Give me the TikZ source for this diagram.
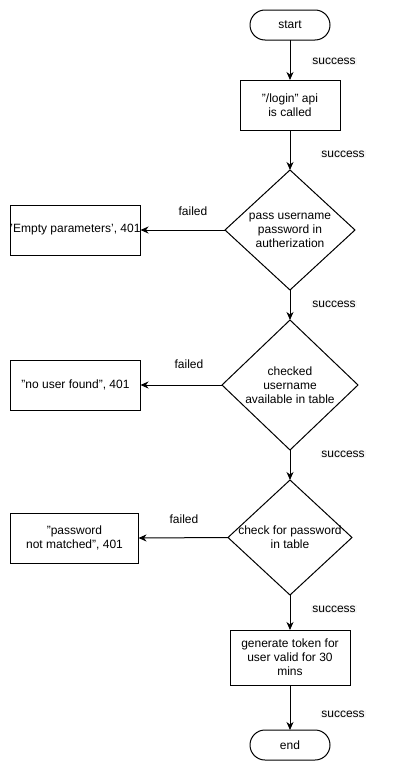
\documentclass[tikz,border=0pt]{standalone}
\usepackage{fontspec}
\setmainfont{Liberation Sans}
\usetikzlibrary{shapes.geometric,arrows.meta}
\begin{document}
\begin{tikzpicture}[x=1pt,y=-1pt,
  font=\fontsize{12}{14}\selectfont,
  every node/.style={inner sep=0pt, outer sep=0pt},
  terminal/.style={draw, line width=1pt, rounded corners=15pt, minimum width=80pt, minimum height=30pt},
  procbox/.style={draw, line width=1pt, minimum width=#1, minimum height=50pt, align=center},
  decision/.style={draw, line width=1pt, diamond, minimum width=#1},
  lbl/.style={fill=black!3, inner sep=1pt},
  flow/.style={line width=1pt, -{Stealth[length=8pt,width=7pt,inset=2.5pt]}}]
\useasboundingbox (0,0) rectangle (401,779);
\fill[white] (0,0) rectangle (401,779);

\node[terminal] (start) at (290,25) {start};
\node[procbox=100pt] (login) at (290,105) {\symbol{34}/login\symbol{34} api\\is called};
\node[decision=130pt, minimum height=120pt, label={[align=center]center:pass username\\password in\\ autherization}] (d1) at (290,230) {};
\node[procbox=130pt] (e1) at (75.5,230) {\symbol{39}Empty parameters\symbol{39}, 401};
\node[decision=136pt, minimum height=130pt, label={[align=center]center:checked\\username\\available in table}] (d2) at (290,385) {};
\node[procbox=130pt] (e2) at (75.5,385) {\symbol{34}no user found\symbol{34}, 401};
\node[decision=124pt, minimum height=115pt, label={[align=center]center:check for password\\in table}] (d3) at (290,537.5) {};
\node[procbox=128pt] (e3) at (74.5,538) {\symbol{34}password\\not matched\symbol{34}, 401};
\node[procbox=120pt, minimum height=55pt] (gen) at (290,657.5) {generate token for\\user valid for 30\\mins};
\node[terminal] (end) at (290,745) {end};

\draw[flow] (start) -- (login);
\draw[flow] (login) -- (d1);
\draw[flow] (d1) -- (d2);
\draw[flow] (d2) -- (d3);
\draw[flow] (d3) -- (gen);
\draw[flow] (gen) -- (end);
\draw[flow] (d1.west) -- (e1.east);
\draw[flow] (d2.west) -- (e2.east);
\draw[flow] (d3.west) -- (e3.east);

\node[lbl] (s1) at (334,61) {success};
\node[lbl] (s2) at (343,154) {success};
\node[lbl] (s3) at (334,304) {success};
\node[lbl] (s4) at (343,454) {success};
\node[lbl] (s5) at (334,609) {success};
\node[lbl] (s6) at (343,714) {success};
\node (f1) at (193,211) {failed};
\node (f2) at (189,364) {failed};
\node (f3) at (184,519) {failed};
\end{tikzpicture}
\end{document}
